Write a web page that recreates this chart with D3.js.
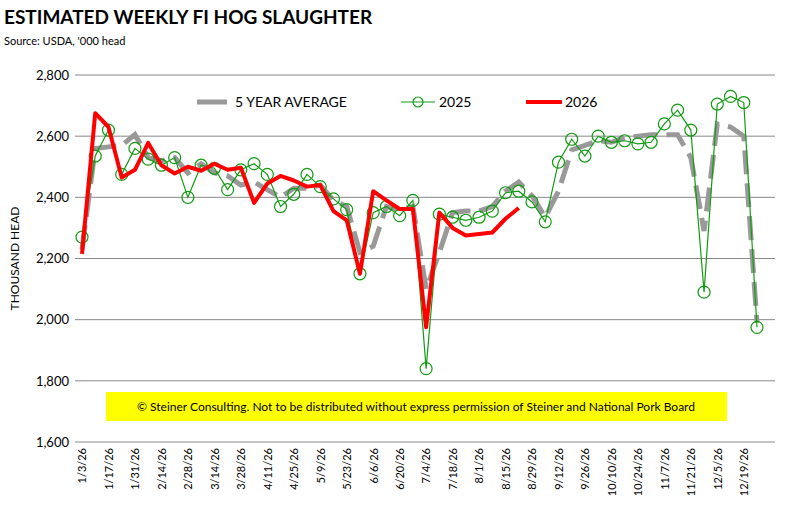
<!DOCTYPE html>
<html><head><meta charset="utf-8">
<script src="https://cdn.jsdelivr.net/npm/d3@7"></script>
<style>body{margin:0;background:#fff;font-family:Lato,"Open Sans",sans-serif;}</style>
</head><body><div id="chart"></div>
<script>
// weekly dates, 1/3/26 .. 12/26/26
const weeks = d3.range(52).map(i => d3.timeDay.offset(new Date(2026, 0, 3), i * 7));
const tickWeeks = weeks.filter((d, i) => i % 2 === 0);
const yTicks = [1600, 1800, 2000, 2200, 2400, 2600, 2800];

const avg5 = [2230,2560,2565,2570,2605,2530,2520,2530,2480,2510,2480,2470,2440,2450,2425,2400,2430,2430,2440,2390,2370,2220,2240,2370,2360,2370,2100,2220,2350,2355,2355,2370,2420,2450,2405,2335,2420,2555,2570,2585,2580,2595,2600,2605,2605,2605,2530,2290,2640,2630,2600,1990];
const y2025 = [2270,2535,2620,2475,2560,2525,2505,2530,2400,2505,2495,2425,2490,2510,2475,2370,2410,2475,2435,2395,2360,2150,2350,2370,2340,2390,1840,2345,2335,2325,2335,2355,2415,2420,2385,2320,2515,2590,2535,2600,2580,2585,2575,2580,2640,2685,2620,2090,2705,2730,2710,1975];
const y2026 = [2215,2675,2630,2465,2490,2578,2505,2478,2500,2487,2510,2490,2497,2382,2445,2470,2455,2435,2440,2355,2325,2150,2420,2390,2362,2362,1975,2350,2300,2275,2280,2285,2330,2365];

const W = 789, H = 515;
const margin = {top: 75, right: 14, bottom: 73, left: 75};
const svg = d3.select("#chart").append("svg").attr("width", W).attr("height", H);

const x = d3.scaleTime().domain([weeks[0], weeks[51]]).range([82, 757]);
const y = d3.scaleLinear().domain([1600, 2800]).range([H - margin.bottom, margin.top]);

// gridlines
svg.append("g").selectAll("line").data(yTicks).join("line")
	.attr("x1", margin.left).attr("x2", W - margin.right)
	.attr("y1", d => y(d)).attr("y2", d => y(d))
	.attr("stroke", "#888").attr("stroke-width", 1);

// y axis labels
svg.append("g").attr("transform", "translate(" + margin.left + ",0)")
	.call(d3.axisLeft(y).tickValues(yTicks).tickFormat(d3.format(",")).tickSize(0).tickPadding(6))
	.call(g => g.select(".domain").remove())
	.selectAll("text").attr("font-size", 13).attr("fill", "#000").attr("font-family", "Lato");

// x axis labels
svg.append("g").attr("transform", "translate(0," + (H - margin.bottom) + ")")
	.call(d3.axisBottom(x).tickValues(tickWeeks).tickFormat(d => (d.getMonth() + 1) + "/" + d.getDate() + "/26").tickSize(0))
	.call(g => g.select(".domain").remove())
	.selectAll("text")
	.attr("font-size", 11).attr("fill", "#000").attr("font-family", "Lato")
	.attr("transform", "rotate(-90)")
	.attr("x", -6).attr("y", 0).attr("dy", "0.35em")
	.style("text-anchor", "end");

// y title
svg.append("text").attr("transform", "translate(19," + ((margin.top + H - margin.bottom) / 2) + ") rotate(-90)")
	.attr("text-anchor", "middle").attr("font-size", 12).text("THOUSAND HEAD");

// title
svg.append("text").attr("x", 4).attr("y", 24).attr("font-size", 19).attr("font-weight", "bold").text("ESTIMATED WEEKLY FI HOG SLAUGHTER");
svg.append("text").attr("x", 4).attr("y", 45).attr("font-size", 11).text("Source: USDA, '000 head");

// copyright box
svg.append("rect").attr("x", 106).attr("y", 392).attr("width", 621).attr("height", 29).attr("fill", "#ffff00");
svg.append("text").attr("x", 416).attr("y", 411).attr("text-anchor", "middle").attr("font-size", 12)
	.text("© Steiner Consulting.  Not to be distributed without express permission of Steiner and National Pork Board");

const line = d3.line().x((d, i) => x(weeks[i])).y(d => y(d));

svg.append("path").datum(avg5).attr("d", line).attr("fill", "none")
	.attr("stroke", "#999").attr("stroke-width", 5).attr("stroke-dasharray", "24,9");
svg.append("path").datum(y2025).attr("d", line).attr("fill", "none")
	.attr("stroke", "#139b13").attr("stroke-width", 1.2);
svg.append("g").selectAll("circle").data(y2025).join("circle")
	.attr("cx", (d, i) => x(weeks[i])).attr("cy", d => y(d)).attr("r", 6)
	.attr("fill", "none").attr("stroke", "#139b13").attr("stroke-width", 1.2);
svg.append("path").datum(y2026).attr("d", line).attr("fill", "none")
	.attr("stroke", "#ff0000").attr("stroke-width", 4).attr("stroke-linejoin", "round");

// legend
const leg = svg.append("g").attr("font-size", 14);
leg.append("line").attr("x1", 197).attr("x2", 227).attr("y1", 102).attr("y2", 102).attr("stroke", "#999").attr("stroke-width", 5);
leg.append("text").attr("x", 235).attr("y", 107).text("5 YEAR AVERAGE");
leg.append("line").attr("x1", 401).attr("x2", 435).attr("y1", 102).attr("y2", 102).attr("stroke", "#139b13").attr("stroke-width", 1.2);
leg.append("circle").attr("cx", 418).attr("cy", 102).attr("r", 5).attr("fill", "none").attr("stroke", "#139b13").attr("stroke-width", 1.2);
leg.append("text").attr("x", 439).attr("y", 107).text("2025");
leg.append("line").attr("x1", 526).attr("x2", 562).attr("y1", 102).attr("y2", 102).attr("stroke", "#ff0000").attr("stroke-width", 4);
leg.append("text").attr("x", 565).attr("y", 107).text("2026");
</script></body></html>
